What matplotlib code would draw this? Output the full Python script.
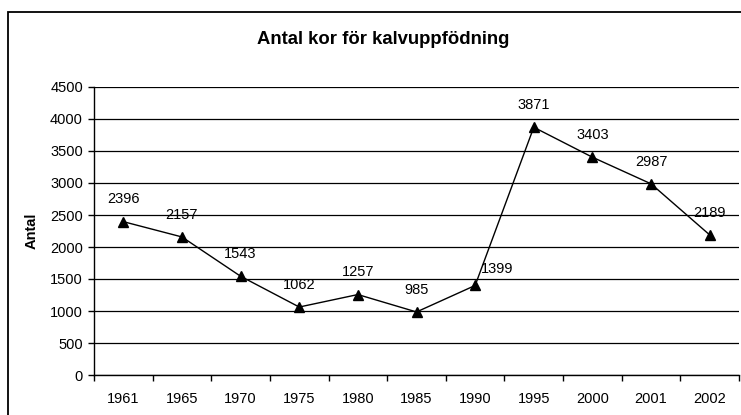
import matplotlib
matplotlib.use('Agg')
import matplotlib.pyplot as plt
from matplotlib.patches import Rectangle

# data
years = ['1961', '1965', '1970', '1975', '1980', '1985', '1990', '1995', '2000', '2001', '2002']
antal = [2396, 2157, 1543, 1062, 1257, 985, 1399, 3871, 3403, 2987, 2189]
y_ticks = [0, 500, 1000, 1500, 2000, 2500, 3000, 3500, 4000, 4500]

plt.rcParams['font.family'] = ['Liberation Sans', 'DejaVu Sans']

fig = plt.figure(figsize=(7.41, 4.15), dpi=100)
ax = fig.add_axes([94 / 741, 1 - 375 / 415, (739 - 94) / 741, (375 - 87) / 415])

# outer frame of the chart
fig.patches.append(Rectangle((8 / 741, -0.1), 1.2, 1 - 12 / 415 + 0.1,
                             transform=fig.transFigure, fill=False,
                             edgecolor='black', linewidth=1.3))

x = list(range(len(years)))
ax.plot(x, antal, color='black', linewidth=1.0, marker='^', markersize=7.5,
        markerfacecolor='black', markeredgecolor='black', zorder=3)

for i, v in enumerate(antal):
    dx, dy = (0, 16)
    if years[i] == '1990':
        dx, dy = (16, 12)
    ax.annotate(str(v), (i, v), xytext=(dx, dy), textcoords='offset points',
                ha='center', va='center', fontsize=10.5)

ax.set_xlim(-0.5, len(years) - 0.5)
ax.set_ylim(0, 4500)
ax.set_yticks(y_ticks)
ax.set_xticks(x)
ax.set_xticklabels(years)
ax.set_xticks([i + 0.5 for i in range(-1, len(years))], minor=True)
ax.tick_params(axis='x', which='major', length=0, pad=12, labelsize=10.5)
ax.tick_params(axis='x', which='minor', length=4, width=1, direction='out')
ax.tick_params(axis='y', length=4, width=1, direction='out', labelsize=10.5, pad=4)

ax.grid(axis='y', color='black', linewidth=0.9)
ax.set_axisbelow(True)
for s in ['top', 'right']:
    ax.spines[s].set_visible(False)
ax.spines['left'].set_linewidth(1.0)
ax.spines['bottom'].set_linewidth(1.0)

ax.set_ylabel('Antal', fontsize=10.5, fontweight='bold', labelpad=8)
fig.text(383 / 741, 1 - 40 / 415, 'Antal kor för kalvuppfödning', ha='center',
         va='center', fontsize=13.3, fontweight='bold')

fig.savefig('out.png', dpi=100)
